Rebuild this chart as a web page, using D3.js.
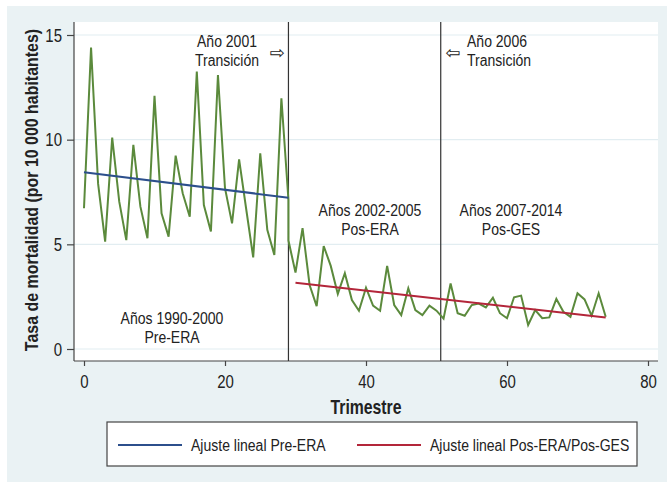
<!DOCTYPE html>
<html>
<head>
<meta charset="utf-8">
<script src="https://cdn.jsdelivr.net/npm/d3@7"></script>
<style>
  body { margin: 0; background: #fff; }
  svg text { font-family: "Liberation Sans", Arial, sans-serif; fill: #222; }
</style>
</head>
<body>
<svg id="chart" width="667" height="489"></svg>
<script>
// tasa trimestral observada, periodo Pre-ERA (trimestre 0..29)
var ratePre = [6.72, 14.4, 7.9, 5.13, 10.1, 7.04, 5.2, 9.75, 6.8, 5.29,
    12.09, 6.48, 5.37, 9.24, 7.44, 6.32, 13.25, 6.88, 5.61, 13.09,
    7.68, 6.0, 9.06, 6.7, 4.38, 9.35, 5.69, 4.49, 11.98, 7.12];
// periodo Pos-ERA / Pos-GES (trimestre 29..74)
var ratePost = [5.18, 3.65, 5.77, 3.06, 2.05, 4.92, 3.97, 2.63, 3.62, 2.34,
    1.83, 2.93, 2.07, 1.83, 3.97, 2.10, 1.62, 2.90, 1.86, 1.62,
    2.07, 1.83, 1.45, 3.13, 1.71, 1.59, 2.10, 2.17, 1.99, 2.45,
    1.71, 1.47, 2.47, 2.55, 1.15, 1.86, 1.47, 1.51, 2.39, 1.78,
    1.54, 2.66, 2.37, 1.59, 2.66, 1.54];
var preStart = 0, postStart = 29;

// ajustes lineales (extremos)
var fitPre = [{t: 0, v: 8.44}, {t: 29, v: 7.23}];
var fitPost = [{t: 30, v: 3.17}, {t: 74, v: 1.51}];

var breaks = [29, 50.6];
var xTicks = [0, 20, 40, 60, 80];
var yTicks = [0, 5, 10, 15];

var notes = [
    {x: 227, y: 47, lines: ["Año 2001", "Transición"], anchor: "middle"},
    {x: 467, y: 47, lines: ["Año 2006", "Transición"], anchor: "start"},
    {x: 370, y: 216, lines: ["Años 2002-2005", "Pos-ERA"], anchor: "middle"},
    {x: 511, y: 216, lines: ["Años 2007-2014", "Pos-GES"], anchor: "middle"},
    {x: 172, y: 324, lines: ["Años 1990-2000", "Pre-ERA"], anchor: "middle"}
];
var legendItems = [
    {label: "Ajuste lineal Pre-ERA", color: "#2c4f8c"},
    {label: "Ajuste lineal Pos-ERA/Pos-GES", color: "#b3263a"}
];

var SX = 0.81, FS = 17.3;   // fake condensed font

var svg = d3.select("#chart");
var plot = {left: 74, right: 658, top: 22, bottom: 361};

var x = d3.scaleLinear().domain([0, 80]).range([84, 648]);
var y = d3.scaleLinear().domain([0, 15]).range([349, 35]);

function ntext(parent, px, py, str, anchor, size, weight) {
    return parent.append("text")
        .attr("transform", "translate(" + px + "," + py + ") scale(" + SX + ",1)")
        .attr("text-anchor", anchor || "start")
        .attr("font-size", size || FS)
        .attr("font-weight", weight || "normal")
        .text(str);
}

svg.append("rect").attr("x", 7).attr("y", 6).attr("width", 660).attr("height", 476)
    .attr("fill", "#eaf2f4");
svg.append("rect").attr("x", plot.left).attr("y", plot.top)
    .attr("width", plot.right - plot.left).attr("height", plot.bottom - plot.top)
    .attr("fill", "#fff");

// grid
svg.append("g").selectAll("line").data(yTicks).enter().append("line")
    .attr("x1", plot.left).attr("x2", plot.right)
    .attr("y1", function (d) {return y(d);}).attr("y2", function (d) {return y(d);})
    .attr("stroke", "#e2edf1").attr("stroke-width", 1.2);

// axes
var yAxis = svg.append("g").attr("transform", "translate(" + plot.left + ",0)")
    .call(d3.axisLeft(y).tickValues(yTicks).tickSize(7));
var xAxis = svg.append("g").attr("transform", "translate(0," + plot.bottom + ")")
    .call(d3.axisBottom(x).tickValues(xTicks).tickSize(5));
yAxis.select(".domain").attr("d", "M0," + plot.top + "V" + plot.bottom);
xAxis.select(".domain").attr("d", "M" + plot.left + ",0H" + plot.right);
[xAxis, yAxis].forEach(function (a) {
    a.selectAll(".domain, line").attr("stroke", "#444").attr("stroke-width", 1.2);
    a.selectAll("text").remove();
});
yAxis.selectAll(".tick").each(function (d) {
    ntext(d3.select(this), -12, 6, d, "end", 18.5);
});
xAxis.selectAll(".tick").each(function (d) {
    ntext(d3.select(this), 0, 27, d, "middle", 18.5);
});

// vertical break lines
svg.append("g").selectAll("line").data(breaks).enter().append("line")
    .attr("x1", function (d) {return x(d);}).attr("x2", function (d) {return x(d);})
    .attr("y1", plot.top).attr("y2", plot.bottom)
    .attr("stroke", "#333").attr("stroke-width", 1.2);

// observed rate
var obs = ratePre.map(function (v, i) {return {t: preStart + i, v: v};})
    .concat(ratePost.map(function (v, i) {return {t: postStart + i, v: v};}));
var line = d3.line().x(function (d) {return x(d.t);}).y(function (d) {return y(d.v);});

svg.append("path").datum(obs).attr("d", line)
    .attr("fill", "none").attr("stroke", "#5b8a3c").attr("stroke-width", 2);
svg.append("path").datum(fitPre).attr("d", line)
    .attr("fill", "none").attr("stroke", legendItems[0].color).attr("stroke-width", 2);
svg.append("path").datum(fitPost).attr("d", line)
    .attr("fill", "none").attr("stroke", legendItems[1].color).attr("stroke-width", 2);

// annotations
notes.forEach(function (n) {
    n.lines.forEach(function (s, i) {
        ntext(svg, n.x, n.y + i * 18.5, s, n.anchor);
    });
});
svg.append("text").attr("x", 277).attr("y", 59).attr("text-anchor", "middle")
    .attr("font-size", 18).style("font-family", "DejaVu Sans").text("⇨");
svg.append("text").attr("x", 453).attr("y", 59).attr("text-anchor", "middle")
    .attr("font-size", 18).style("font-family", "DejaVu Sans").text("⇦");

// axis titles
ntext(svg, 366, 414, "Trimestre", "middle", 19.5, "bold");
svg.append("text").attr("transform", "translate(38,190) rotate(-90) scale(0.84,1)")
    .attr("text-anchor", "middle").attr("font-size", 19).attr("font-weight", "bold")
    .text("Tasa de mortalidad (por 10 000 habitantes)");

// legend
var lg = svg.append("g");
lg.append("rect").attr("x", 107).attr("y", 422).attr("width", 530).attr("height", 44)
    .attr("fill", "#fff").attr("stroke", "#444").attr("stroke-width", 1.2);
var lx = [118, 357];
legendItems.forEach(function (d, i) {
    lg.append("line").attr("x1", lx[i]).attr("x2", lx[i] + 64)
        .attr("y1", 445).attr("y2", 445)
        .attr("stroke", d.color).attr("stroke-width", 2);
    ntext(lg, lx[i] + 73, 451, d.label, "start");
});
</script>
</body>
</html>
